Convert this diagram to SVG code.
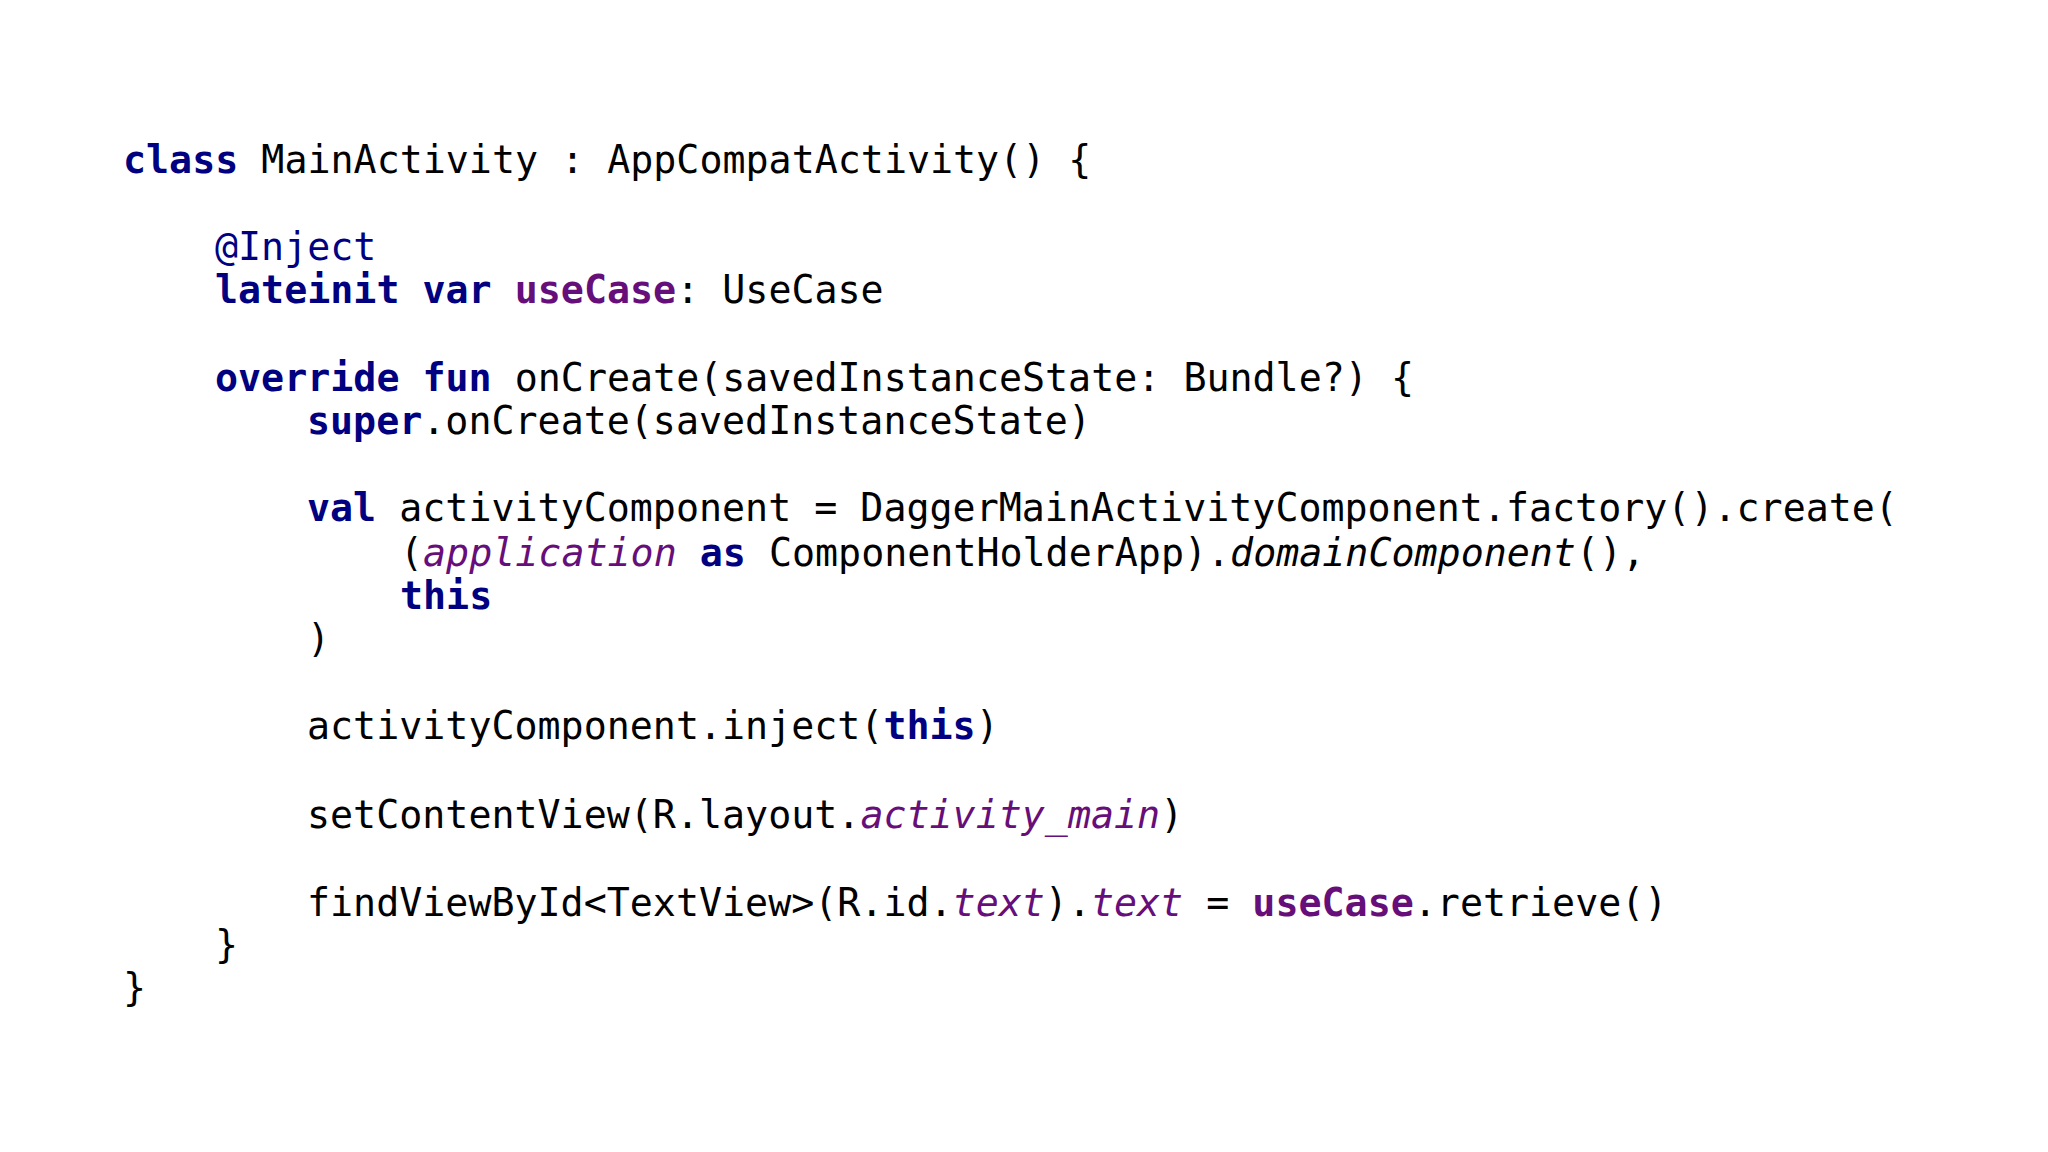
<svg xmlns="http://www.w3.org/2000/svg" width="2048" height="1152" viewBox="0 0 2048 1152">
<style>
text{font-family:"DejaVu Sans Mono","Liberation Mono",monospace;font-size:38.3px;fill:#000;white-space:pre}
.k{fill:#000080;font-weight:bold}
.p{fill:#660e7a;font-weight:bold}
.pi{fill:#660e7a;font-style:italic}
.i{font-style:italic}
.a{fill:#000080}
</style>
<rect width="2048" height="1152" fill="#ffffff"/>
<g id="code" xml:space="preserve">
<text x="123" y="173"><tspan class="k">class</tspan> MainActivity : AppCompatActivity() {</text>
<text x="215" y="260"><tspan class="a">@Inject</tspan></text>
<text x="215" y="303"><tspan class="k">lateinit var</tspan> <tspan class="p">useCase</tspan>: UseCase</text>
<text x="215" y="391"><tspan class="k">override fun</tspan> onCreate(savedInstanceState: Bundle?) {</text>
<text x="307" y="434"><tspan class="k">super</tspan>.onCreate(savedInstanceState)</text>
<text x="307" y="521"><tspan class="k">val</tspan> activityComponent = DaggerMainActivityComponent.factory().create(</text>
<text x="400" y="566">(<tspan class="pi">application</tspan> <tspan class="k">as</tspan> ComponentHolderApp).<tspan class="i">domainComponent</tspan>(),</text>
<text x="400" y="609"><tspan class="k">this</tspan></text>
<text x="307" y="652">)</text>
<text x="307" y="739">activityComponent.inject(<tspan class="k">this</tspan>)</text>
<text x="307" y="828">setContentView(R.layout.<tspan class="pi">activity_main</tspan>)</text>
<text x="307" y="916">findViewById&lt;TextView&gt;(R.id.<tspan class="pi">text</tspan>).<tspan class="pi">text</tspan> = <tspan class="p">useCase</tspan>.retrieve()</text>
<text x="215" y="958">}</text>
<text x="123" y="1001">}</text>
</g>
</svg>
